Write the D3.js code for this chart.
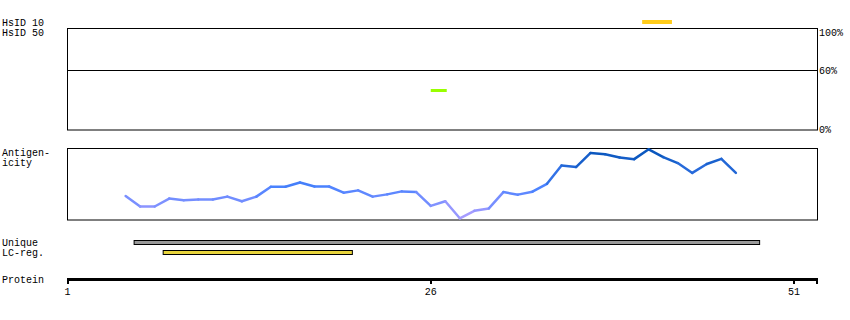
<!DOCTYPE html>
<html>
<head>
<meta charset="utf-8">
<script src="https://cdn.jsdelivr.net/npm/d3@7"></script>
<style>
  body { margin: 0; background: #fff; }
  text { font-family: "Liberation Mono", "DejaVu Sans Mono", monospace; font-size: 10px; fill: #000; }
</style>
</head>
<body>
<svg id="chart" width="850" height="320"></svg>
<script>
// residue ticks on the protein axis
var proteinTicks = [1, 26, 51];

// identity panel
var pctTicks = [100, 60, 0];
var hsid10 = [{ start: 40.55, end: 42.6 }];
var hsid50 = [{ start: 26.0, end: 27.1, pct: 39.5 }];

// antigenicity profile, first value at residue 5
var antigenStart = 5;
var antigenValues = [0.324, 0.176, 0.176, 0.288, 0.264, 0.274, 0.274, 0.315, 0.25, 0.315,
                     0.454, 0.454, 0.514, 0.458, 0.458, 0.371, 0.403, 0.315, 0.347, 0.389,
                     0.379, 0.185, 0.25, 0.01, 0.115, 0.149, 0.379, 0.343, 0.385, 0.496,
                     0.754, 0.732, 0.93, 0.912, 0.865, 0.843, 0.982, 0.871, 0.788, 0.649,
                     0.774, 0.847, 0.649];

// region tracks
var uniqueRegions = [{ start: 5.55, end: 48.6 }];
var lcRegions = [{ start: 7.55, end: 20.57 }];

var svg = d3.select("#chart");
var left = 67, right = 817;

var x = d3.scaleLinear()
          .domain([1, 51])
          .range([67.5, 794]);

var yPct = d3.scaleLinear()
             .domain([0, 100])
             .range([130, 30]);

var yAnt = d3.scaleLinear()
             .domain([0, 1])
             .range([219, 148]);

var antColor = d3.scaleLinear()
                 .domain([0, 0.45, 1])
                 .range(["#b4a0ff", "#4a82ff", "#0050b4"]);

// left labels
var labels = [["HsID 10", 26], ["HsID 50", 36], ["Antigen-", 156], ["icity", 166],
              ["Unique", 246], ["LC-reg.", 256], ["Protein", 283]];
svg.selectAll(".lab")
    .data(labels)
  .enter().append("text")
    .attr("x", 2)
    .attr("y", d => d[1])
    .text(d => d[0]);

// identity panel
svg.append("rect")
    .attr("x", left + 0.5).attr("y", 28.5)
    .attr("width", right - left).attr("height", 101.5)
    .attr("fill", "none").attr("stroke", "#000");

svg.append("line")
    .attr("x1", left).attr("x2", right)
    .attr("y1", Math.round(yPct(60)) + 0.5).attr("y2", Math.round(yPct(60)) + 0.5)
    .attr("stroke", "#000");

svg.selectAll(".pct")
    .data(pctTicks)
  .enter().append("text")
    .attr("x", 819)
    .attr("y", d => d === 100 ? 36 : d === 0 ? 133 : yPct(d) + 4)
    .text(d => d + "%");

svg.selectAll(".hs10")
    .data(hsid10)
  .enter().append("rect")
    .attr("x", d => x(d.start))
    .attr("width", d => x(d.end) - x(d.start))
    .attr("y", 20).attr("height", 4)
    .attr("fill", "#ffcc1a");

svg.selectAll(".hs50")
    .data(hsid50)
  .enter().append("rect")
    .attr("x", d => x(d.start))
    .attr("width", d => x(d.end) - x(d.start))
    .attr("y", d => yPct(d.pct) - 1.5).attr("height", 3)
    .attr("fill", "#99ff00");

// antigenicity panel
svg.append("rect")
    .attr("x", left + 0.5).attr("y", 148.5)
    .attr("width", right - left).attr("height", 71.5)
    .attr("fill", "none").attr("stroke", "#000");

var antPts = antigenValues.map((v, i) => ({ res: antigenStart + i, v: v }));
var segs = d3.pairs(antPts);

svg.selectAll(".seg")
    .data(segs)
  .enter().append("line")
    .attr("x1", d => x(d[0].res)).attr("y1", d => yAnt(d[0].v))
    .attr("x2", d => x(d[1].res)).attr("y2", d => yAnt(d[1].v))
    .attr("stroke", d => antColor((d[0].v + d[1].v) / 2))
    .attr("stroke-width", 2.5)
    .attr("stroke-linecap", "round");

// region bars
svg.selectAll(".uniq")
    .data(uniqueRegions)
  .enter().append("rect")
    .attr("x", d => x(d.start) + 0.5)
    .attr("width", d => x(d.end) - x(d.start))
    .attr("y", 240.5).attr("height", 4)
    .attr("fill", "#999").attr("stroke", "#000");

svg.selectAll(".lc")
    .data(lcRegions)
  .enter().append("rect")
    .attr("x", d => x(d.start) + 0.5)
    .attr("width", d => x(d.end) - x(d.start))
    .attr("y", 250.5).attr("height", 4)
    .attr("fill", "#e8d43c").attr("stroke", "#000");

// protein axis
svg.append("rect")
    .attr("x", left).attr("y", 278)
    .attr("width", right - left + 1).attr("height", 3)
    .attr("fill", "#000");

svg.selectAll(".tk")
    .data(proteinTicks)
  .enter().append("rect")
    .attr("x", d => Math.round(x(d)) - 1)
    .attr("y", 280).attr("width", 2).attr("height", 4)
    .attr("fill", "#000");

svg.append("rect")
    .attr("x", right - 1).attr("y", 280).attr("width", 2).attr("height", 4)
    .attr("fill", "#000");

svg.selectAll(".tkl")
    .data(proteinTicks)
  .enter().append("text")
    .attr("x", d => x(d))
    .attr("y", 295)
    .attr("text-anchor", "middle")
    .text(d => d);
</script>
</body>
</html>
